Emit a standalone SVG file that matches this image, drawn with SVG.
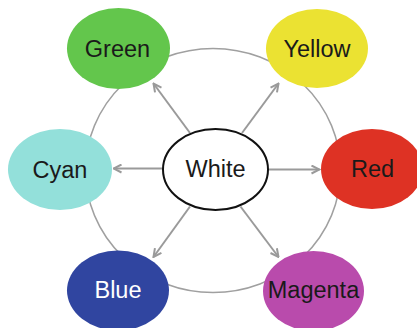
<svg xmlns="http://www.w3.org/2000/svg" width="417" height="328" viewBox="0 0 417 328">
<style>
.ring{fill:none;stroke:#a0a0a0;stroke-width:1.5}
.conn{stroke:#9a9a9a;stroke-width:2;fill:none;marker-end:url(#arr)}
text{font-family:"Liberation Sans",Arial,sans-serif;font-size:23.5px;text-anchor:middle;fill:#1a1a1a}
</style>
<defs>
<marker id="arr" viewBox="0 0 10 10" refX="9" refY="5" markerWidth="10" markerHeight="10" markerUnits="userSpaceOnUse" orient="auto">
<path d="M1,1 L9,5 L1,9" fill="none" stroke="#9a9a9a" stroke-width="2"/>
</marker>
</defs>
<rect width="417" height="328" fill="#fff"/>
<ellipse class="ring" cx="213" cy="170.5" rx="127.5" ry="122"/>
<g id="connectors">
<line class="conn" x1="190" y1="133" x2="153.5" y2="83.5"/>
<line class="conn" x1="242" y1="133" x2="278.5" y2="83.5"/>
<line class="conn" x1="163" y1="168.5" x2="113.5" y2="168.5"/>
<line class="conn" x1="268.5" y1="169.5" x2="319.5" y2="169.5"/>
<line class="conn" x1="190" y1="206.5" x2="153.5" y2="257"/>
<line class="conn" x1="240.5" y1="206.5" x2="278.5" y2="257"/>
</g>
<g id="green"><ellipse cx="118.5" cy="48.5" rx="51.5" ry="40.5" fill="#63c64c"/><text x="117.5" y="56.5">Green</text></g>
<g id="yellow"><ellipse cx="317" cy="48.5" rx="51" ry="39.5" fill="#ebe232"/><text x="317" y="56.7">Yellow</text></g>
<g id="cyan"><ellipse cx="60" cy="169.5" rx="52" ry="40.5" fill="#93e0da"/><text x="60" y="178.3">Cyan</text></g>
<g id="white"><ellipse cx="215.5" cy="169.5" rx="52.5" ry="40.5" fill="#fff" stroke="#111" stroke-width="2"/><text x="215.5" y="176.7">White</text></g>
<g id="red"><ellipse cx="372" cy="169" rx="51" ry="40" fill="#de3224"/><text x="372.5" y="177.3">Red</text></g>
<g id="blue"><ellipse cx="118" cy="290.5" rx="51" ry="40" fill="#3045a0"/><text x="118" y="298.3" style="fill:#fff">Blue</text></g>
<g id="magenta"><ellipse cx="313.5" cy="291" rx="50.5" ry="40" fill="#b94bac"/><text x="313.5" y="298.3">Magenta</text></g>
</svg>
